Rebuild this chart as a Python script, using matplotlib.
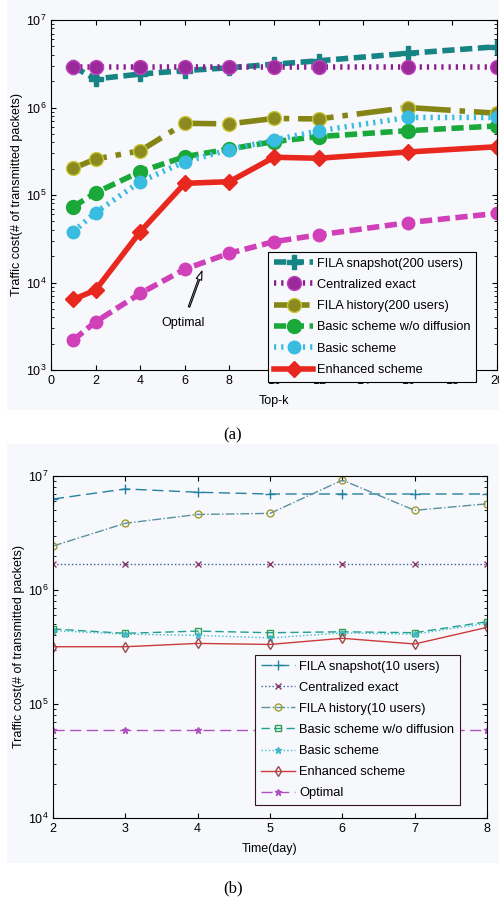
import matplotlib
matplotlib.use('Agg')
import matplotlib.pyplot as plt
from matplotlib.patches import Rectangle

plt.rcParams['font.family'] = ['Liberation Sans', 'DejaVu Sans']
plt.rcParams['mathtext.default'] = 'regular'
plt.rcParams['font.size'] = 9

# ---- panel (a): traffic cost vs top-k ----
topk = [1, 2, 4, 6, 8, 10, 12, 16, 20]
a_fila_snap = [2.92e6, 2.12e6, 2.41e6, 2.64e6, 2.85e6, 3.12e6, 3.42e6, 4.16e6, 4.95e6]
a_central = [2.92e6] * 9
a_fila_hist = [2.02e5, 2.58e5, 3.2e5, 6.6e5, 6.5e5, 7.5e5, 7.4e5, 1.0e6, 8.6e5]
a_basic_nodiff = [7.35e4, 1.06e5, 1.85e5, 2.74e5, 3.36e5, 4.07e5, 4.65e5, 5.43e5, 6.15e5]
a_basic = [3.81e4, 6.3e4, 1.42e5, 2.4e5, 3.3e5, 4.25e5, 5.4e5, 7.7e5, 7.7e5]
a_enhanced = [6.4e3, 8.2e3, 3.8e4, 1.36e5, 1.42e5, 2.7e5, 2.63e5, 3.1e5, 3.56e5]
a_optimal = [2.2e3, 3.55e3, 7.5e3, 1.42e4, 2.16e4, 2.93e4, 3.5e4, 4.83e4, 6.17e4]

# ---- panel (b): traffic cost vs day ----
days = [2, 3, 4, 5, 6, 7, 8]
b_fila_snap = [6.28e6, 7.7e6, 7.2e6, 6.95e6, 6.95e6, 6.95e6, 6.95e6]
b_central = [1.68e6] * 7
b_fila_hist = [2.43e6, 3.85e6, 4.6e6, 4.7e6, 9.2e6, 5.0e6, 5.7e6]
b_basic_nodiff = [4.55e5, 4.17e5, 4.36e5, 4.22e5, 4.3e5, 4.22e5, 5.27e5]
b_basic = [4.4e5, 4.1e5, 4.0e5, 3.8e5, 4.2e5, 4.1e5, 5.1e5]
b_enhanced = [3.18e5, 3.18e5, 3.4e5, 3.33e5, 3.77e5, 3.36e5, 4.7e5]
b_optimal = [5.9e4] * 7

bg = '#f7f8fc'
fig = plt.figure(figsize=(4.99, 9.01), dpi=100)
fig.patches.append(Rectangle((7/499, 1-410/901), 492/499, 410/901, transform=fig.transFigure,
                             facecolor=bg, edgecolor='none', zorder=-1))
fig.patches.append(Rectangle((7/499, 1-863/901), 492/499, 419/901, transform=fig.transFigure,
                             facecolor=bg, edgecolor='none', zorder=-1))

ylab = 'Traffic cost(# of transmitted packets)'

# panel (a)
ax1 = fig.add_axes([51/499, 1-370/901, 446/499, 350/901])
ax1.set_facecolor(bg)
lw = 4
ax1.plot(topk, a_fila_snap, '--', color='#168484', lw=lw, marker='P', ms=10,
         label='FILA snapshot(200 users)', dashes=(2.2, 1))
ax1.plot(topk, a_central, ':', color='#8a1f8a', lw=lw, marker='o', ms=10,
         mfc='#9a2a9a', mec='#c040c0', label='Centralized exact', dashes=(0.4, 0.9))
ax1.plot(topk, a_fila_hist, '-.', color='#858515', lw=lw, marker='o', ms=10,
         mfc='#8a8a20', mec='#c8c838', label='FILA history(200 users)')
ax1.plot(topk, a_basic_nodiff, '--', color='#1aa83a', lw=lw, marker='o', ms=10,
         label='Basic scheme w/o diffusion', dashes=(2.2, 1))
ax1.plot(topk, a_basic, ':', color='#38bce0', lw=lw, marker='o', ms=9,
         label='Basic scheme', dashes=(0.4, 0.9))
ax1.plot(topk, a_enhanced, '-', color='#e8281e', lw=lw, marker='D', ms=8,
         label='Enhanced scheme')
ax1.plot(topk, a_optimal, '--', color='#d040b8', lw=lw, marker='o', ms=9, dashes=(2.2, 1))
ax1.annotate('Optimal', xy=(6.77, 1.35e4), xytext=(5.92, 3.4e3), ha='center', va='center',
             fontsize=9,
             arrowprops=dict(arrowstyle='simple,head_width=0.45,head_length=0.7,tail_width=0.12',
                             facecolor='white', edgecolor='black', lw=0.8, shrinkA=6, shrinkB=0))
ax1.set_yscale('log')
ax1.set_xlim(0, 20)
ax1.set_ylim(1e3, 1e7)
ax1.set_xticks(range(0, 21, 2))
ax1.set_xlabel('Top-k', labelpad=6)
ax1.set_ylabel(ylab, labelpad=2)
ax1.tick_params(which='both', direction='in', top=True, right=True)
leg1 = ax1.legend(loc='lower left', bbox_to_anchor=(0.4865, -0.034), frameon=True,
                  fancybox=False, edgecolor='black', facecolor=bg, framealpha=1,
                  handlelength=3.1, labelspacing=0.73, borderpad=0.45, handletextpad=0.3,
                  borderaxespad=0, fontsize=9.2)
leg1.get_frame().set_linewidth(0.8)
fig.text(233/499, 1-435/901, '(a)', ha='center', va='center', fontsize=12,
         family=['Liberation Serif', 'DejaVu Serif'])

# panel (b)
ax2 = fig.add_axes([53/499, 1-818/901, 434/499, 342/901])
ax2.set_facecolor(bg)
ax2.plot(days, b_fila_snap, '--', color='#2282a0', lw=1, marker='+', ms=7,
         label='FILA snapshot(10 users)', dashes=(8, 4))
ax2.plot(days, b_central, ':', color='#3a5c9a', lw=1, marker='x', ms=4,
         mec='#8a3a6a', label='Centralized exact')
ax2.plot(days, b_fila_hist, '-.', color='#5a90a0', lw=1, marker='o', ms=5,
         mfc='none', mec='#a09a30', label='FILA history(10 users)')
ax2.plot(days, b_basic_nodiff, '--', color='#20a090', lw=1, marker='s', ms=5,
         mfc='none', mec='#30a050', label='Basic scheme w/o diffusion', dashes=(6, 3))
ax2.plot(days, b_basic, ':', color='#40b8c8', lw=1, marker='*', ms=5,
         label='Basic scheme')
ax2.plot(days, b_enhanced, '-', color='#cc3a3a', lw=1, marker='d', ms=5,
         mfc='none', mec='#9a4a4a', label='Enhanced scheme')
ax2.plot(days, b_optimal, '--', color='#b050c0', lw=1, marker='*', ms=5,
         label='Optimal', dashes=(8, 4))
ax2.set_yscale('log')
ax2.set_xlim(2, 8)
ax2.set_ylim(1e4, 1e7)
ax2.set_xlabel('Time(day)', labelpad=6)
ax2.set_ylabel(ylab, labelpad=2)
ax2.tick_params(which='both', direction='in', top=True, right=True)
leg2 = ax2.legend(loc='lower left', bbox_to_anchor=(0.465, 0.038), frameon=True,
                  fancybox=False, edgecolor='#301818', facecolor=bg, framealpha=1,
                  handlelength=2.7, labelspacing=0.7, borderpad=0.45, handletextpad=0.3,
                  borderaxespad=0, fontsize=9.3)
leg2.get_frame().set_linewidth(0.8)
fig.text(233/499, 1-888/901, '(b)', ha='center', va='center', fontsize=12,
         family=['Liberation Serif', 'DejaVu Serif'])

fig.savefig('out.png', dpi=100, facecolor='white')
